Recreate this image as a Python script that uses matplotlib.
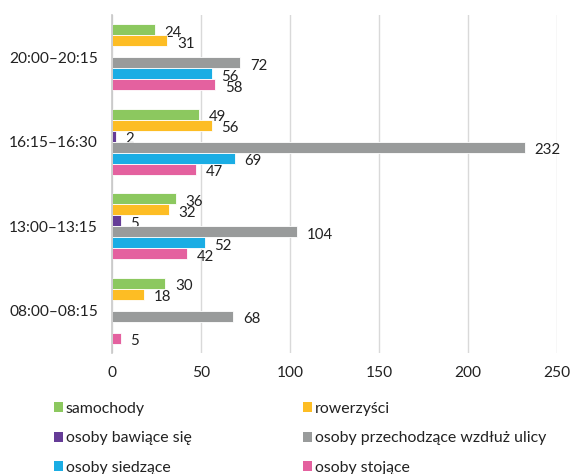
import numpy as np
import matplotlib.pyplot as plt
from matplotlib.patches import Patch

plt.rcParams["font.family"] = ["Lato", "DejaVu Sans"]

# time slots, bottom to top
categories = ["08:00–08:15", "13:00–13:15", "16:15–16:30", "20:00–20:15"]

samochody = [30, 36, 49, 24]
rowerzysci = [18, 32, 56, 31]
bawiace = [0, 5, 2, 0]
przechodzace = [68, 104, 232, 72]
siedzace = [0, 52, 69, 56]
stojace = [5, 42, 47, 58]

series_names = ["samochody", "rowerzyści", "osoby bawiące się",
                "osoby przechodzące wzdłuż ulicy", "osoby siedzące", "osoby stojące"]
series_values = [samochody, rowerzysci, bawiace, przechodzace, siedzace, stojace]
colors = ["#8cc85f", "#fdbd24", "#653c97", "#999b9b", "#1aade4", "#e4619f"]

fig = plt.figure(figsize=(5.72, 4.74), dpi=100)
ax = fig.add_axes([0.1958, 0.255, 0.778, 0.713])

y = np.arange(len(categories))
h = 0.13
n = len(series_values)

for (i, (name, vals, c)) in enumerate(zip(series_names, series_values, colors)):
    # first series on top of each group
    pos = y + (n - 1) / 2 * h - i * h
    bars = ax.barh(pos, vals, height=h, color=c, edgecolor="white", linewidth=0.6, zorder=3)
    for bar, v in zip(bars.patches, vals):
        if v == 0:
            continue
        ax.annotate(str(v), xy=(v, bar.get_y() + bar.get_height() / 2),
                    xytext=(7, -2), textcoords="offset points",
                    va="center", ha="left", fontsize=10.8, color="#222222")

ax.set_xlim(0, 250)
ax.set_ylim(-0.5, len(categories) - 0.5)
ax.set_xticks([0, 50, 100, 150, 200, 250])
ax.set_yticks(y)
ax.set_yticklabels(categories)
ax.tick_params(axis="both", length=0, labelsize=11.2, colors="#222222")
ax.tick_params(axis="x", pad=9.5)
ax.tick_params(axis="y", pad=10)
ax.grid(axis="x", color="#d9d9d9", linewidth=1, zorder=0)
for s in ["top", "right", "bottom"]:
    ax.spines[s].set_visible(False)
ax.spines["left"].set_color("#c8c8c8")
ax.spines["left"].set_linewidth(1.2)
ax.spines["left"].set_zorder(4)

# legend laid out row by row: reorder for column-major filling
order = [0, 2, 4, 1, 3, 5]
handles = [Patch(facecolor=colors[k], label=series_names[k]) for k in order]
fig.legend(handles=handles, loc="upper left", bbox_to_anchor=(0.0944, 0.152),
           ncol=2, frameon=False, fontsize=11.4, handlelength=0.57, handleheight=0.57,
           handletextpad=0.19, columnspacing=7.0, labelspacing=0.97, borderaxespad=0,
           borderpad=0, labelcolor="#222222")

plt.savefig("out.png", dpi=100)
